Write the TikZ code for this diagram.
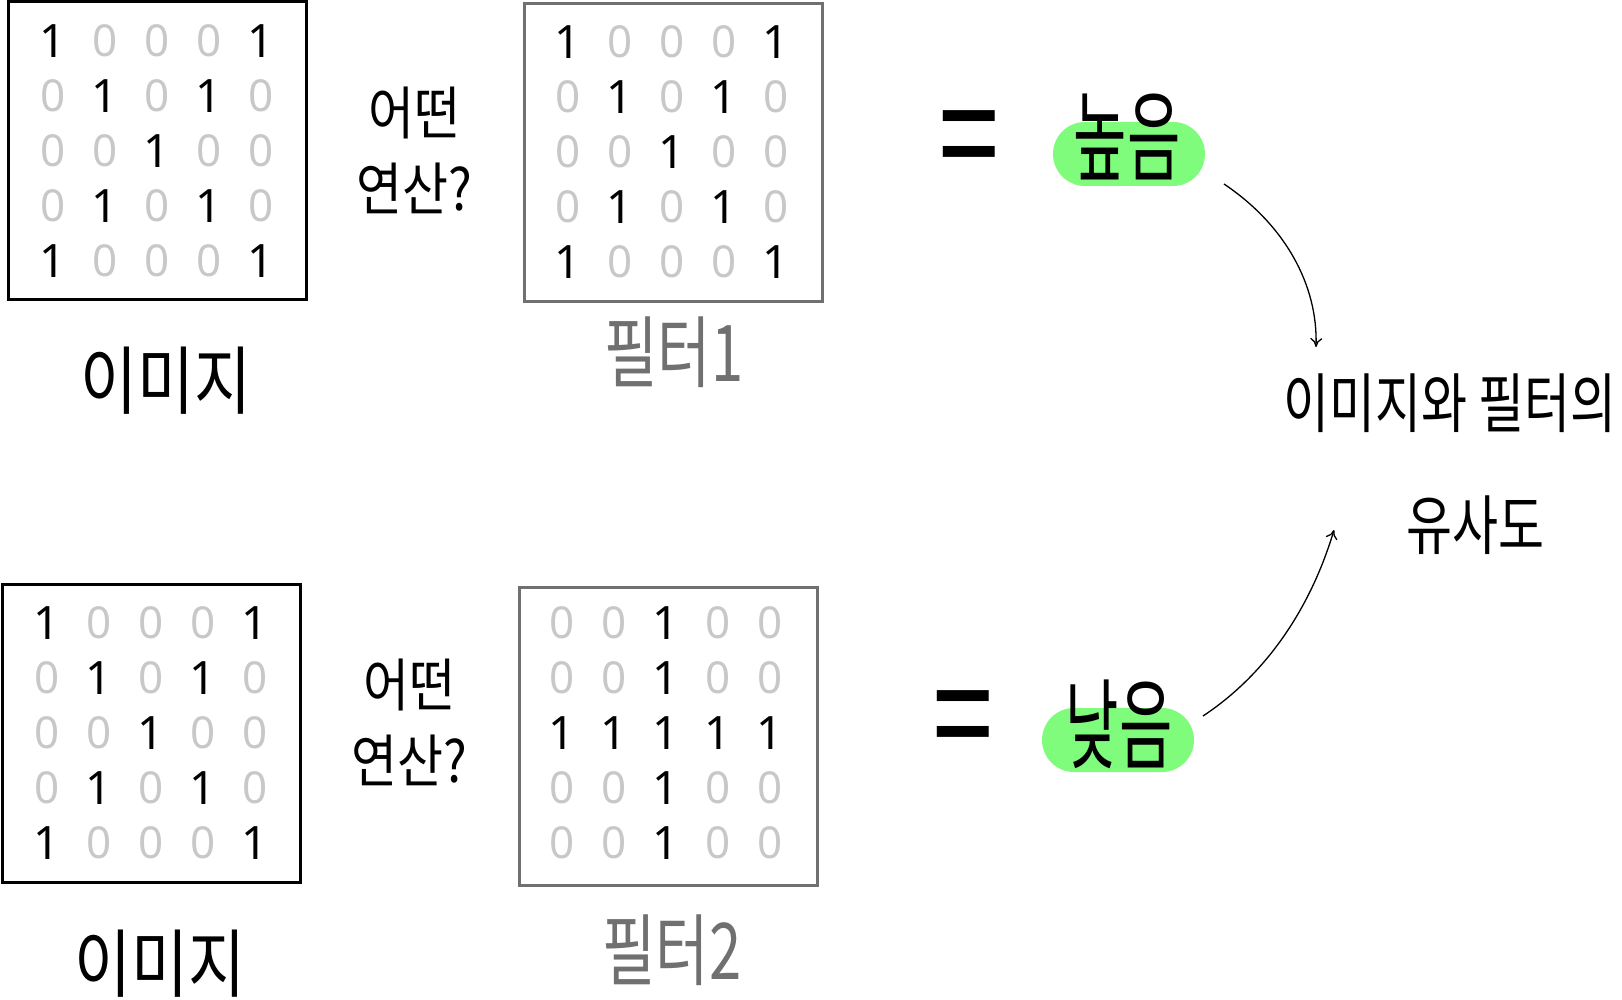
\documentclass[tikz,border=0pt]{standalone}
\usepackage{fontspec}
\setmainfont{Noto Sans CJK KR}
\newfontfamily\digfont{Noto Sans}
\usetikzlibrary{arrows.meta}
\definecolor{hl}{HTML}{80FC7C}
\definecolor{zerogray}{HTML}{C8C8C8}
\definecolor{framegray}{HTML}{707070}
\tikzset{
  digit1/.style={font=\digfont\fontsize{46}{46}\selectfont, text=black, inner sep=0pt},
  digit0/.style={font=\digfont\fontsize{44}{44}\selectfont, text=zerogray, inner sep=0pt},
  imgbox/.style={draw=black, line width=3pt},
  filtbox/.style={draw=framegray, line width=3pt},
  lbl/.style={font=\fontsize{62}{62}\selectfont, yscale=1.2, inner sep=0pt},
  glbl/.style={font=\fontsize{58}{58}\selectfont, yscale=1.35, text=framegray, inner sep=0pt},
  oplbl/.style={font=\fontsize{50}{66}\selectfont, yscale=1.15, align=center, inner sep=0pt},
  eqsign/.style={font=\fontsize{130}{130}\selectfont, xscale=0.55, yscale=1.22, inner sep=0pt},
  hlbox/.style={fill=hl, rounded corners=32pt, minimum width=152pt, minimum height=64pt, inner sep=0pt},
  reslbl/.style={font=\fontsize{58}{58}\selectfont, yscale=1.7, inner sep=0pt},
  simlbl/.style={font=\fontsize{50}{50}\selectfont, yscale=1.3, inner sep=0pt},
  arr/.style={-{To[length=9pt,width=12pt]}, line width=1.3pt},
}
\newcommand\mydrawgrid[4]{%
  \foreach \d [count=\i from 0] in {#3} {
    \pgfmathtruncatemacro\cc{mod(\i,5)}
    \pgfmathtruncatemacro\rr{int(\i/5)}
    \node[digit\d] (#4-\i) at ({#1+(\cc-2)*52},{#2+(\rr-2)*55}) {\d};
  }}
\begin{document}
\begin{tikzpicture}[x=1pt,y=-1pt]
\useasboundingbox (0,0) rectangle (1622,1000);
% top row
\node[imgbox, minimum width=298pt, minimum height=298pt] (img1) at (157,151) {};
\mydrawgrid{157}{151}{1,0,0,0,1,0,1,0,1,0,0,0,1,0,0,0,1,0,1,0,1,0,0,0,1}{ga}
\node[filtbox, minimum width=298pt, minimum height=298pt] (f1) at (673,153) {};
\mydrawgrid{672}{152}{1,0,0,0,1,0,1,0,1,0,0,0,1,0,0,0,1,0,1,0,1,0,0,0,1}{gb}
\node[lbl] (l1) at (166,381) {이미지};
\node[glbl] (lf1) at (674,352) {필터1};
\node[oplbl] (op1) at (414,150) {어떤\\연산?};
\node[eqsign] (eq1) at (969,153) {＝};
\node[hlbox] (hb1) at (1129,154) {};
\node[reslbl] (r1) at (1127,137) {높음};
% bottom row
\node[imgbox, minimum width=298pt, minimum height=298pt] (img2) at (151,733) {};
\mydrawgrid{151}{733}{1,0,0,0,1,0,1,0,1,0,0,0,1,0,0,0,1,0,1,0,1,0,0,0,1}{gc}
\node[filtbox, minimum width=298pt, minimum height=298pt] (f2) at (668,736) {};
\mydrawgrid{666}{733}{0,0,1,0,0,0,0,1,0,0,1,1,1,1,1,0,0,1,0,0,0,0,1,0,0}{gd}
\node[lbl] (l2) at (160,964) {이미지};
\node[glbl] (lf2) at (672,950) {필터2};
\node[oplbl] (op2) at (409,722) {어떤\\연산?};
\node[eqsign] (eq2) at (963,733) {＝};
\node[hlbox] (hb2) at (1118,740) {};
\node[reslbl] (r2) at (1119,724) {낮음};
% result
\node[simlbl] (s1) at (1450,403) {이미지와 필터의};
\node[simlbl] (s2) at (1475,525) {유사도};
\coordinate (a1s) at (1224,184);
\coordinate (a1e) at (1316,347);
\coordinate (a2s) at (1203,716);
\coordinate (a2e) at (1334,530);
\draw[arr] (a1s) .. controls (1285,225) and (1318,285) .. (a1e);
\draw[arr] (a2s) .. controls (1265,675) and (1310,610) .. (a2e);
\end{tikzpicture}
\end{document}
